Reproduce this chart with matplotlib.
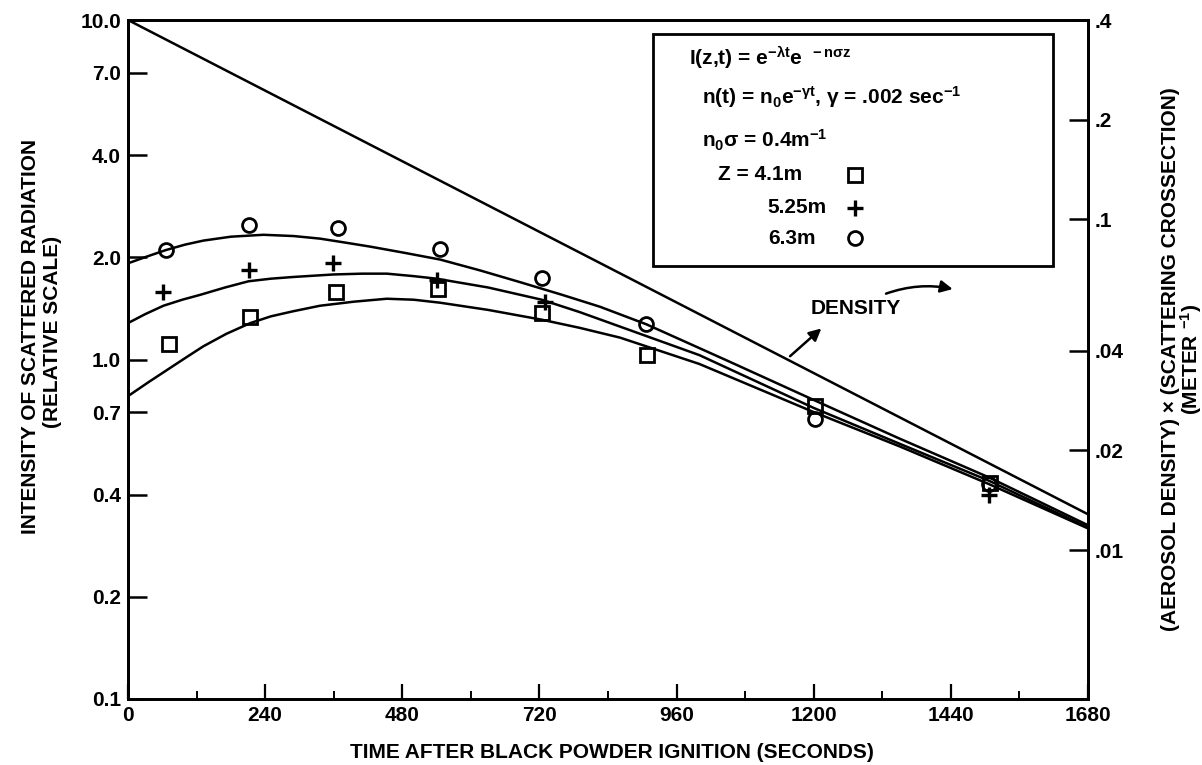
import matplotlib
matplotlib.use("Agg")
import matplotlib.pyplot as plt
from matplotlib.ticker import FixedLocator, NullLocator
from matplotlib.patches import Rectangle

plt.rcParams['font.family'] = ['Liberation Sans', 'DejaVu Sans']
plt.rcParams['font.weight'] = 'bold'
plt.rcParams['mathtext.fontset'] = 'custom'
plt.rcParams['mathtext.rm'] = 'Liberation Sans:bold'
plt.rcParams['mathtext.it'] = 'Liberation Sans:bold'
plt.rcParams['mathtext.bf'] = 'Liberation Sans:bold'

# ---------------- data ----------------
x_ticks = [0, 240, 480, 720, 960, 1200, 1440, 1680]
x_minor = [120, 360, 600, 840, 1080, 1320, 1560]
y_ticks = [0.1, 0.2, 0.4, 0.7, 1.0, 2.0, 4.0, 7.0, 10.0]
y_labels = ["0.1", "0.2", "0.4", "0.7", "1.0", "2.0", "4.0", "7.0", "10.0"]
y2_ticks = [0.01, 0.02, 0.04, 0.1, 0.2, 0.4]
y2_labels = [".01", ".02", ".04", ".1", ".2", ".4"]

# measured points
sq_t = [71, 214, 364, 543, 724, 908, 1203, 1509]
sq_v = [1.11, 1.33, 1.58, 1.61, 1.37, 1.03, 0.73, 0.434]
pl_t = [62, 211, 359, 540, 730, 1507]
pl_v = [1.58, 1.84, 1.92, 1.72, 1.48, 0.40]
ci_t = [66, 211, 367, 546, 724, 907, 1202, 1506]
ci_v = [2.10, 2.49, 2.44, 2.12, 1.74, 1.27, 0.67, 0.43]

# fitted curves
top_t = [0, 33, 66, 100, 132, 180, 237, 290, 336, 380, 424, 485, 546, 616, 686,
         760, 826, 907, 1050, 1200, 1350, 1506, 1680]
top_v = [1.92, 2.01, 2.10, 2.18, 2.24, 2.30, 2.33, 2.31, 2.27, 2.21, 2.15, 2.06,
         1.97, 1.83, 1.69, 1.55, 1.43, 1.27, 0.99, 0.76, 0.585, 0.45, 0.325]
mid_t = [0, 30, 62, 95, 126, 170, 211, 250, 289, 359, 410, 453, 500, 540, 630,
         724, 790, 861, 1000, 1200, 1350, 1506, 1680]
mid_v = [1.28, 1.36, 1.44, 1.50, 1.55, 1.63, 1.70, 1.73, 1.75, 1.78, 1.79, 1.79,
         1.76, 1.73, 1.63, 1.50, 1.38, 1.25, 1.03, 0.72, 0.565, 0.44, 0.32]
bot_t = [0, 37, 74, 104, 132, 172, 214, 250, 289, 336, 395, 453, 500, 546, 630,
         724, 790, 861, 1000, 1200, 1350, 1506, 1680]
bot_v = [0.78, 0.86, 0.945, 1.02, 1.094, 1.19, 1.28, 1.34, 1.387, 1.44, 1.48,
         1.51, 1.50, 1.47, 1.40, 1.31, 1.24, 1.16, 0.97, 0.70, 0.555, 0.43, 0.318]

# density line
dens_t = [0, 1680]
dens_v = [10.0, 0.35]

# ---------------- figure ----------------
W, H = 1202, 765
fig = plt.figure(figsize=(W / 100, H / 100), dpi=100)
L, R, T, B = 128, 1088, 20, 699
ax = fig.add_axes([L / W, 1 - B / H, (R - L) / W, (B - T) / H])

lw = 1.8
for tt, vv in [(dens_t, dens_v), (top_t, top_v), (mid_t, mid_v), (bot_t, bot_v)]:
    ax.plot(tt, vv, color='black', lw=lw, solid_joinstyle='round')

ms = 9.5
ax.plot(sq_t, sq_v, ls='none', marker='s', ms=ms, mfc='none', mec='black', mew=2.0)
ax.plot(pl_t, pl_v, ls='none', marker='+', ms=ms + 2, mec='black', mew=2.4)
ax.plot(ci_t, ci_v, ls='none', marker='o', ms=ms + 0.5, mfc='none', mec='black', mew=2.0)

ax.set_yscale('log')
ax.set_xlim(0, 1680)
ax.set_ylim(0.1, 10)
ax.yaxis.set_major_locator(FixedLocator(y_ticks))
ax.yaxis.set_minor_locator(NullLocator())
ax.set_yticklabels(y_labels)
ax.xaxis.set_major_locator(FixedLocator(x_ticks))
ax.xaxis.set_minor_locator(FixedLocator(x_minor))
ax.set_xticklabels([str(v) for v in x_ticks])

for s in ax.spines.values():
    s.set_linewidth(2.0)

tfs = 15
ax.tick_params(axis='y', which='major', direction='in', length=14, width=1.8,
               pad=5, labelsize=tfs)
ax.tick_params(axis='x', which='major', direction='in', length=11, width=1.6,
               pad=5, labelsize=tfs)
ax.tick_params(axis='x', which='minor', direction='in', length=6, width=1.4)

ax2 = ax.twinx()
ax2.set_yscale('log')
ax2.set_ylim(0.003545, 0.4)
ax2.yaxis.set_major_locator(FixedLocator(y2_ticks))
ax2.yaxis.set_minor_locator(NullLocator())
ax2.set_yticklabels(y2_labels)
ax2.tick_params(axis='y', which='major', direction='in', length=14, width=1.8,
                pad=5, labelsize=tfs)
for s in ax2.spines.values():
    s.set_linewidth(2.0)

# axis titles
afs = 15
fig.text(612 / W, 1 - 752 / H, "TIME AFTER BLACK POWDER IGNITION (SECONDS)",
         ha='center', va='center', fontsize=afs, fontweight='bold')
fig.text(31 / W, 1 - 337 / H, "INTENSITY OF SCATTERED RADIATION",
         ha='center', va='center', rotation=90, fontsize=afs, fontweight='bold')
fig.text(52 / W, 1 - 332 / H, "(RELATIVE SCALE)",
         ha='center', va='center', rotation=90, fontsize=afs, fontweight='bold')
fig.text(1171 / W, 1 - 359 / H, "(AEROSOL DENSITY) \u00d7 (SCATTERING CROSSECTION)",
         ha='center', va='center', rotation=90, fontsize=afs, fontweight='bold')
fig.text(1191 / W, 1 - 359 / H, r"(METER $^{-1}$)",
         ha='center', va='center', rotation=90, fontsize=afs, fontweight='bold')

# legend box
fig.patches.append(Rectangle((653 / W, 1 - 266 / H), 400 / W, 232 / H,
                             transform=fig.transFigure, fill=False,
                             lw=2.0, ec='black'))
fs = 15
fig.text(689 / W, 1 - 58 / H, r"I(z,t) = e$^{-\lambda t}$e$^{\ \ -n\sigma z}$",
         ha='left', va='center', fontsize=fs, fontweight='bold')
fig.text(702 / W, 1 - 97 / H, r"n(t) = n$_0$e$^{-\gamma t}$, $\gamma$ = .002 sec$^{-1}$",
         ha='left', va='center', fontsize=fs, fontweight='bold')
fig.text(702 / W, 1 - 140 / H, r"n$_0\sigma$ = 0.4m$^{-1}$",
         ha='left', va='center', fontsize=fs, fontweight='bold')
fig.text(718 / W, 1 - 175 / H, "Z = 4.1m", ha='left', va='center', fontsize=fs,
         fontweight='bold')
fig.text(767 / W, 1 - 208 / H, "5.25m", ha='left', va='center', fontsize=fs,
         fontweight='bold')
fig.text(768 / W, 1 - 238 / H, "6.3m", ha='left', va='center', fontsize=fs,
         fontweight='bold')
fig.lines.append(plt.Line2D([855 / W], [1 - 175 / H], transform=fig.transFigure,
                            marker='s', ms=ms, mfc='none', mec='black', mew=2.0, ls='none'))
fig.lines.append(plt.Line2D([855 / W], [1 - 208 / H], transform=fig.transFigure,
                            marker='+', ms=ms + 2, mec='black', mew=2.4, ls='none'))
fig.lines.append(plt.Line2D([855 / W], [1 - 238 / H], transform=fig.transFigure,
                            marker='o', ms=ms + 0.5, mfc='none', mec='black', mew=2.0, ls='none'))

# DENSITY annotation
ax.text(1274, 1.41, "DENSITY", ha='center', va='center', fontsize=15,
        fontweight='bold')
ax.annotate("", xy=(1217, 1.25), xytext=(1155, 1.01),
            arrowprops=dict(arrowstyle='-|>', color='black', lw=1.8,
                            mutation_scale=18))
ax.annotate("", xy=(1448, 1.606), xytext=(1322, 1.553),
            arrowprops=dict(arrowstyle='-|>', color='black', lw=1.8,
                            mutation_scale=18,
                            connectionstyle='arc3,rad=-0.15'))

fig.savefig("out.png", dpi=100)
